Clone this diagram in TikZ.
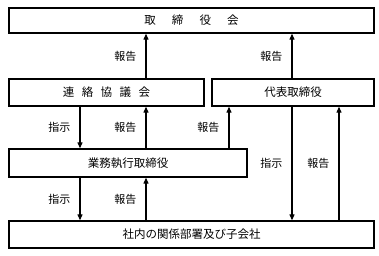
\documentclass[tikz,border=0pt]{standalone}
\usepackage{fontspec}
\setmainfont{Noto Sans CJK JP}
\usetikzlibrary{arrows.meta}
\begin{document}
\begin{tikzpicture}[x=1pt,y=-1pt,
  box/.style={draw,line width=1.3pt,inner sep=0pt,font=\fontsize{11.5}{13}\selectfont},
  arr/.style={line width=1.1pt,-{Triangle[length=6pt,width=5pt]}},
  lab/.style={font=\fontsize{11}{12}\selectfont,inner sep=0pt}]
\useasboundingbox (0,0) rectangle (379,255);
\node[box,minimum width=365pt,minimum height=25pt] (tori) at (191.5,20.5) {取\hspace{1.4em}締\hspace{1.4em}役\hspace{1.4em}会};
\node[box,minimum width=195pt,minimum height=27pt] (renraku) at (106.5,92.5) {連\hspace{0.65em}絡\hspace{0.65em}協\hspace{0.65em}議\hspace{0.65em}会};
\node[box,minimum width=162pt,minimum height=27pt] (daihyo) at (293,92.5) {代表取締役};
\node[box,minimum width=238pt,minimum height=28pt] (gyomu) at (128,163) {業務執行取締役};
\node[box,minimum width=365pt,minimum height=27pt] (shanai) at (191.5,234.5) {社内の関係部署及び子会社};
% arrows
\draw[arr] (renraku.north -| 146,0) -- (tori.south -| 146,0) node[midway,left=9pt,lab] {報告};
\draw[arr] (daihyo.north -| 292,0) -- (tori.south -| 292,0) node[midway,left=9pt,lab] {報告};
\draw[arr] (renraku.south -| 80,0) -- (gyomu.north -| 80,0) node[midway,left=9pt,lab] {指示};
\draw[arr] (gyomu.north -| 146,0) -- (renraku.south -| 146,0) node[midway,left=9pt,lab] {報告};
\draw[arr] (gyomu.north -| 229,0) -- (daihyo.south -| 229,0) node[midway,left=9pt,lab] {報告};
\draw[arr] (daihyo.south -| 292,0) -- (shanai.north -| 292,0) node[midway,left=9pt,lab] {指示};
\draw[arr] (shanai.north -| 339,0) -- (daihyo.south -| 339,0) node[midway,left=9pt,lab] {報告};
\draw[arr] (gyomu.south -| 80,0) -- (shanai.north -| 80,0) node[midway,left=9pt,lab] {指示};
\draw[arr] (shanai.north -| 146,0) -- (gyomu.south -| 146,0) node[midway,left=9pt,lab] {報告};
\end{tikzpicture}
\end{document}
